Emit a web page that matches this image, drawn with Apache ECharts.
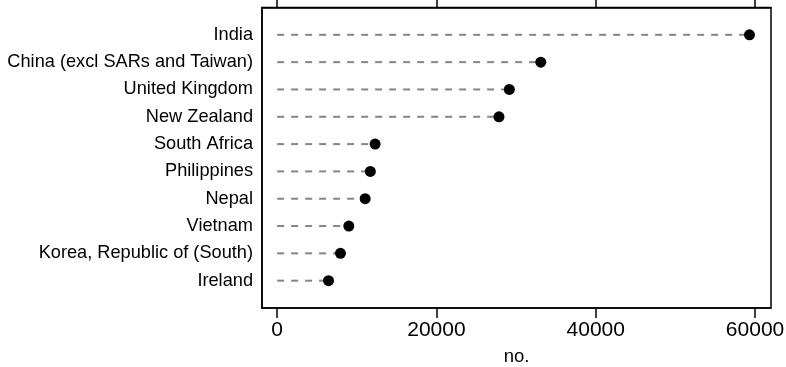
<!DOCTYPE html>
<html>
<head>
<meta charset="utf-8">
<script src="https://cdn.jsdelivr.net/npm/echarts@6/dist/echarts.min.js"></script>
<style>html,body{margin:0;padding:0;background:#fff}#c{width:786px;height:367px}</style>
</head>
<body>
<div id="c"></div>
<script>
// Top to bottom
const categories = ['India','China (excl SARs and Taiwan)','United Kingdom','New Zealand','South Africa','Philippines','Nepal','Vietnam','Korea, Republic of (South)','Ireland'];
const values = [59300, 33100, 29150, 27850, 12300, 11700, 11050, 9000, 7950, 6450];
const xTicks = [0, 20000, 40000, 60000];
const xTitle = 'no.';

const n = categories.length;
const pts = values.map((v, i) => [v, n - i]);
const FONT = '"Liberation Sans", Arial, sans-serif';

const chart = echarts.init(document.getElementById('c'), null, {renderer: 'canvas'});
chart.setOption({
  animation: false,
  grid: {left: 262, right: 15, top: 7.5, bottom: 59, show: true, borderColor: '#000', borderWidth: 1.5,
    backgroundColor: 'transparent', containLabel: false, outerBoundsMode: 'none'},
  xAxis: [{
    type: 'value', position: 'bottom', min: -1900, max: 62000,
    name: xTitle, nameLocation: 'middle', nameGap: 39,
    nameTextStyle: {fontFamily: FONT, fontSize: 18.5, color: '#000'},
    axisLine: {show: true, onZero: false, lineStyle: {color: '#000', width: 1.5}},
    axisTick: {show: true, length: 10, customValues: xTicks, lineStyle: {color: '#000', width: 1.5}},
    axisLabel: {customValues: xTicks, fontFamily: FONT, fontSize: 21, color: '#000', margin: 12,
      formatter: v => String(v)},
    splitLine: {show: false}
  }, {
    type: 'value', position: 'top', min: -1900, max: 62000,
    axisLine: {show: true, onZero: false, lineStyle: {color: '#000', width: 1.5}},
    axisTick: {show: true, length: 10, customValues: xTicks, lineStyle: {color: '#000', width: 1.5}},
    axisLabel: {show: false},
    splitLine: {show: false}
  }],
  yAxis: {
    type: 'value', min: 0, max: n + 1, interval: 1,
    axisLine: {show: true, onZero: false, lineStyle: {color: '#000', width: 1.5}},
    axisTick: {show: false},
    splitLine: {show: false},
    axisLabel: {
      customValues: categories.map((c, i) => n - i),
      fontFamily: FONT, fontSize: 18.2, color: '#000', margin: 9,
      formatter: v => categories[n - v] || ''
    }
  },
  series: [{
    type: 'custom',
    data: pts,
    encode: {x: 0, y: 1},
    renderItem: function (params, api) {
      const v = api.value(0), y = api.value(1);
      const p0 = api.coord([0, y]);
      const p1 = api.coord([v, y]);
      return {type: 'line', shape: {x1: p0[0], y1: p0[1], x2: p1[0], y2: p1[1]},
        style: {stroke: '#858585', lineWidth: 2, lineDash: [7, 7]}};
    },
    z: 1
  }, {
    type: 'scatter',
    data: pts,
    symbol: 'circle', symbolSize: 11,
    itemStyle: {color: '#000', opacity: 1},
    z: 2
  }]
});
</script>
</body>
</html>
